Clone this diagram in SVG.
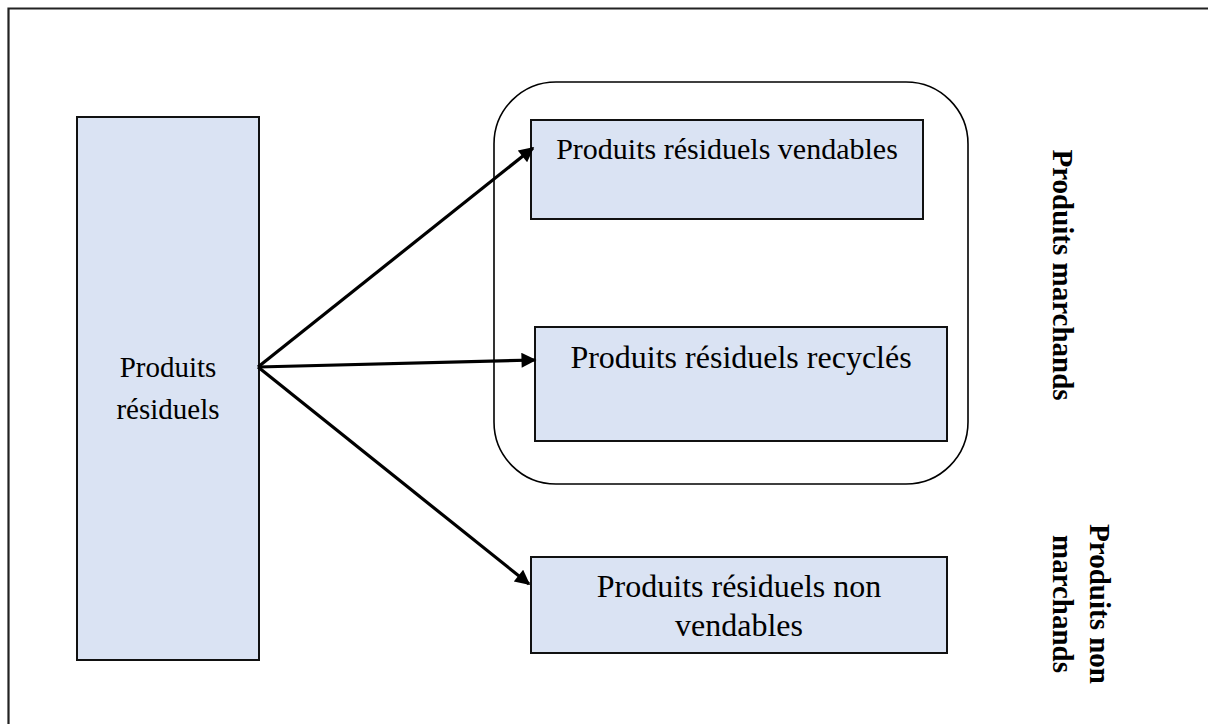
<svg xmlns="http://www.w3.org/2000/svg" width="1208" height="724" viewBox="0 0 1208 724">
  <style>
    .box { fill: #DAE3F3; stroke: #111; stroke-width: 2; }
    .lbl { font-family: "Liberation Serif", "Times New Roman", serif; font-size: 29px; fill: #000; text-anchor: middle; }
    .md { font-size: 30px; }
    .lg { font-size: 32px; }
    .side { font-family: "Liberation Serif", "Times New Roman", serif; font-size: 29px; font-weight: bold; fill: #000; text-anchor: middle; }
    .arrow { stroke: #000; stroke-width: 3.2; fill: none; marker-end: url(#head); }
  </style>
  <defs>
    <marker id="head" viewBox="0 0 10 10" refX="9" refY="5" markerUnits="userSpaceOnUse" markerWidth="18" markerHeight="15" orient="auto">
      <path d="M0,0 L10,5 L0,10 Z" fill="#000"/>
    </marker>
  </defs>

  <rect width="1208" height="724" fill="#fff"/>

  <!-- page frame (open on the right and bottom) -->
  <path d="M8.5,724 V8.5 H1208" fill="none" stroke="#222" stroke-width="2.2"/>

  <!-- grouping outline for the marketable products -->
  <g id="group-marchands">
    <rect x="494" y="82" width="474" height="402" rx="62" ry="62" fill="none" stroke="#000" stroke-width="1.6"/>
  </g>

  <g id="node-residuels">
    <rect class="box" x="77" y="117" width="182" height="543"/>
    <text class="lbl" x="168" y="377">Produits</text>
    <text class="lbl" x="168" y="419">résiduels</text>
  </g>

  <g id="node-vendables">
    <rect class="box" x="531" y="120" width="392" height="99"/>
    <text class="lbl md" x="727" y="159">Produits résiduels vendables</text>
  </g>

  <g id="node-recycles">
    <rect class="box" x="535" y="327" width="412" height="114"/>
    <text class="lbl lg" x="741" y="368">Produits résiduels recyclés</text>
  </g>

  <g id="node-non-vendables">
    <rect class="box" x="531" y="557" width="416" height="96"/>
    <text class="lbl lg" x="739" y="597">Produits résiduels non</text>
    <text class="lbl lg" x="739" y="636">vendables</text>
  </g>

  <g id="label-marchands">
    <text class="side" transform="translate(1053,275) rotate(90)" x="0" y="0">Produits marchands</text>
  </g>

  <g id="label-non-marchands">
    <text class="side" transform="translate(1090,604) rotate(90)" x="0" y="0">Produits non</text>
    <text class="side" transform="translate(1090,604) rotate(90)" x="0" y="37">marchands</text>
  </g>

  <g id="connectors">
    <line class="arrow" x1="258" y1="367" x2="533" y2="148"/>
    <line class="arrow" x1="258" y1="367" x2="535" y2="360"/>
    <line class="arrow" x1="258" y1="367" x2="529" y2="584"/>
  </g>
</svg>
